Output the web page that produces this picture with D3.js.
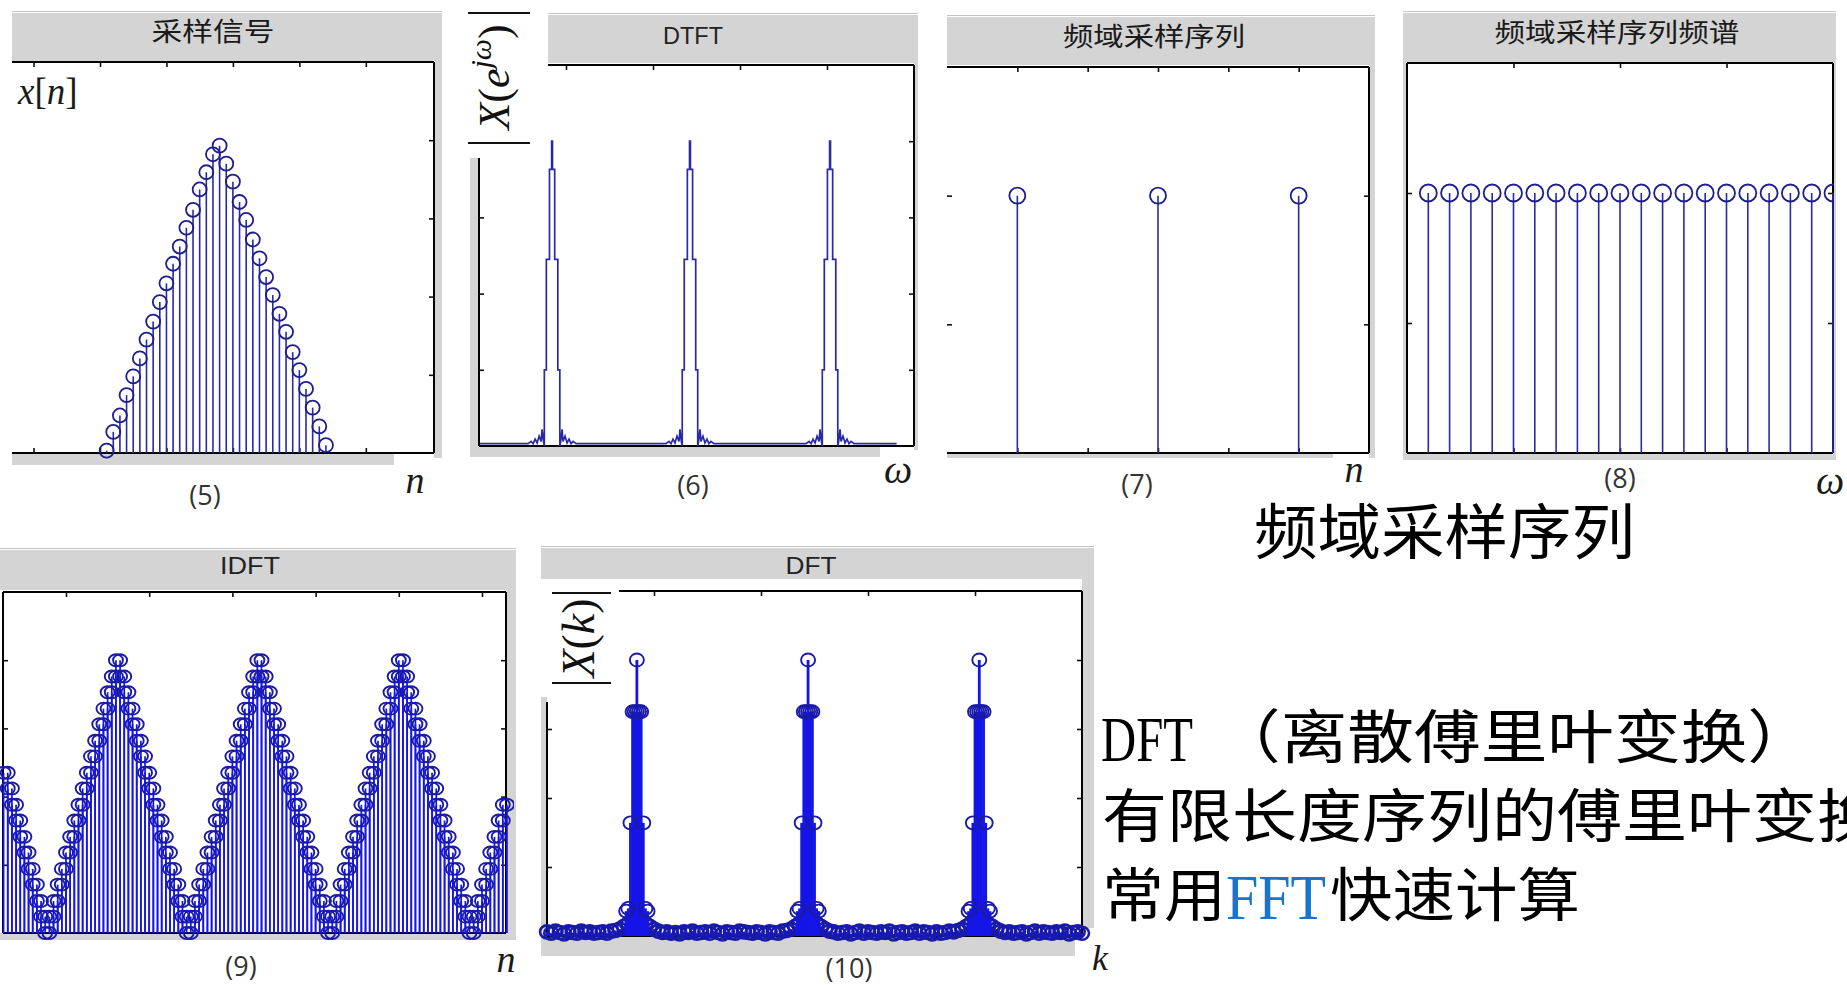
<!DOCTYPE html>
<html>
<head>
<meta charset="utf-8">
<script src="https://cdnjs.cloudflare.com/ajax/libs/d3/7.8.5/d3.min.js"></script>
<style>
  body { margin: 0; background: #fff; }
</style>
</head>
<body>
<script>
// ---------- data ----------
// (5) sampled signal x[n], n = 1..34
const triN = d3.range(1, 35);
const triVal = [0.03, 0.27, 0.48, 0.74, 0.98, 1.21, 1.45, 1.68, 1.93, 2.17, 2.42, 2.64, 2.88, 3.11, 3.37,
  3.59, 3.82, 3.93, 3.70, 3.47, 3.21, 2.98, 2.73, 2.49, 2.25, 2.02, 1.78, 1.55, 1.29, 1.06, 0.82, 0.58, 0.34, 0.10];
const triTicks = [-10, 0, 10, 20, 30, 40];

// (6) DTFT magnitude: one spike profile (offset in omega, value) and the spike centres
const dtftPeaks = [0.84, 2.425, 4.035];
const dtftOff = [-0.276, -0.241, -0.218, -0.195, -0.172, -0.149, -0.126, -0.115, -0.098, -0.089, -0.089, -0.066, -0.066,
  -0.030, -0.030, -0.005, -0.005, 0.005, 0.005, 0.030, 0.030, 0.066, 0.066, 0.089, 0.089, 0.098, 0.115, 0.126,
  0.149, 0.172, 0.195, 0.218, 0.241, 0.276];
const dtftMag = [0.03, 0.06, 0.03, 0.09, 0.04, 0.13, 0.06, 0.22, 0.05, 0.0, 1.0, 1.0, 2.45, 2.45, 3.63, 3.63, 4.0,
  4.0, 3.63, 3.63, 2.45, 2.45, 1.0, 1.0, 0.0, 0.05, 0.22, 0.06, 0.13, 0.04, 0.09, 0.03, 0.06, 0.03];
const dtftEnds = [[0.01, 0.03], [4.8, 0.03]];

// (7) frequency-domain samples
const fsN = [1, 3, 5];
const fsVal = [2, 2, 2];

// (8) spectrum of the frequency samples
const fsSpecW = [0.2, 0.4, 0.6, 0.8, 1.0, 1.2, 1.4, 1.6, 1.8, 2.0, 2.2, 2.4, 2.6, 2.8, 3.0, 3.2, 3.4, 3.6, 3.8, 4.0];
const fsSpecVal = [2, 2, 2, 2, 2, 2, 2, 2, 2, 2, 2, 2, 2, 2, 2, 2, 2, 2, 2, 2];

// (9) IDFT, n = 5..125
const idftN = d3.range(5, 126);
const idftVal = [
  2.35, 2.12, 1.88, 1.65, 1.41, 1.18, 0.94, 0.71, 0.47, 0.24,
  0,
  0.24, 0.47, 0.71, 0.94, 1.18, 1.41, 1.65, 1.88, 2.12, 2.35, 2.59, 2.82, 3.06, 3.29, 3.53, 3.76, 4.00,
  3.76, 3.53, 3.29, 3.06, 2.82, 2.59, 2.35, 2.12, 1.88, 1.65, 1.41, 1.18, 0.94, 0.71, 0.47, 0.24,
  0,
  0.24, 0.47, 0.71, 0.94, 1.18, 1.41, 1.65, 1.88, 2.12, 2.35, 2.59, 2.82, 3.06, 3.29, 3.53, 3.76, 4.00,
  3.76, 3.53, 3.29, 3.06, 2.82, 2.59, 2.35, 2.12, 1.88, 1.65, 1.41, 1.18, 0.94, 0.71, 0.47, 0.24,
  0,
  0.24, 0.47, 0.71, 0.94, 1.18, 1.41, 1.65, 1.88, 2.12, 2.35, 2.59, 2.82, 3.06, 3.29, 3.53, 3.76, 4.00,
  3.76, 3.53, 3.29, 3.06, 2.82, 2.59, 2.35, 2.12, 1.88, 1.65, 1.41, 1.18, 0.94, 0.71, 0.47, 0.24,
  0,
  0.24, 0.47, 0.71, 0.94, 1.18, 1.41, 1.65, 1.88];
const idftTicks = [20, 40, 60, 80, 100, 120];

// (10) DFT: spike centres, spike profile, and the low floor (k = 0, 2, ..., 250)
const dftPeaks = [42, 122, 202];
const dftOff = [-5, 5, -4, 4, -3, 3, -2, -1, 1, 2, 0, 0];
const dftMag = [0.36, 0.36, 0.40, 0.40, 1.64, 1.64, 3.25, 3.25, 3.25, 3.25, 3.25, 4.0];
const dftFloorK = d3.range(0, 251, 2);
const dftFloor = [
  0.06, 0.04, 0.07, 0.05, 0.03, 0.06, 0.05, 0.04, 0.07, 0.05, 0.06, 0.04, 0.05, 0.06, 0.04, 0.07, 0.08,
  0.10, 0.14, 0.18, 0.24, 0.28, 0.24, 0.18, 0.14, 0.10,
  0.07, 0.05, 0.06, 0.04, 0.05, 0.03, 0.06, 0.05, 0.07, 0.04, 0.05, 0.06, 0.04, 0.07, 0.05, 0.03,
  0.06, 0.05, 0.04, 0.07, 0.06, 0.05, 0.04, 0.06, 0.05, 0.03, 0.06, 0.05, 0.04, 0.07, 0.08,
  0.10, 0.14, 0.18, 0.24, 0.28, 0.24, 0.18, 0.14, 0.10,
  0.07, 0.06, 0.04, 0.05, 0.06, 0.03, 0.05, 0.07, 0.04, 0.06, 0.05, 0.04, 0.06, 0.05, 0.07, 0.03,
  0.05, 0.06, 0.04, 0.05, 0.07, 0.04, 0.06, 0.05, 0.03, 0.06, 0.04, 0.05, 0.07, 0.06, 0.08,
  0.10, 0.14, 0.18, 0.24, 0.28, 0.24, 0.18, 0.14, 0.10,
  0.07, 0.05, 0.06, 0.04, 0.05, 0.06, 0.03, 0.05, 0.07, 0.04, 0.06, 0.05, 0.04, 0.06, 0.05, 0.07,
  0.03, 0.05, 0.06, 0.04];
const dftTicks = [0, 50, 100, 150, 200];

const unitTicks = [1, 2, 3, 4];

// ---------- drawing ----------
const svg = d3.select('body').append('svg').attr('width', 1847).attr('height', 985);
const defs = svg.append('defs');

const GRAY = '#d4d4d4';
const NAVY = '#2a2aa4', NAVYC = '#1e1e8e';
const BLUE = '#1515e8', BLUEC = '#1a1aa8';
const CJK = 'Noto Sans CJK SC';

function rect(x0, y0, x1, y1, fill) {
  svg.append('rect').attr('x', x0).attr('y', y0).attr('width', x1 - x0).attr('height', y1 - y0).attr('fill', fill);
}
function seg(x1, y1, x2, y2, c = '#000', w = 2) {
  svg.append('line').attr('x1', x1).attr('y1', y1).attr('x2', x2).attr('y2', y2).attr('stroke', c).attr('stroke-width', w);
}
function clip(id, x0, y0, x1, y1) {
  defs.append('clipPath').attr('id', id).append('rect')
    .attr('x', x0).attr('y', y0).attr('width', x1 - x0).attr('height', y1 - y0);
}
function txt(x, y, s, o = {}) {
  const t = svg.append('text').attr('x', x).attr('y', y)
    .attr('font-family', o.ff || 'Liberation Sans')
    .attr('font-size', o.fs || 20)
    .attr('fill', o.fill || '#222')
    .attr('text-anchor', o.anchor || 'start');
  if (o.italic) t.attr('font-style', 'italic');
  if (o.weight) t.attr('font-weight', o.weight);
  if (o.len) t.attr('textLength', o.len).attr('lengthAdjust', 'spacingAndGlyphs');
  t.text(s);
  return t;
}
function titleBar(x0, y0, x1, y1) {
  rect(x0, y0, x1, y1, GRAY);
  seg(x0, y0 - 1.5, x1, y0 - 1.5, '#c4c4c4', 1);
}
function ticks(x, y, box, t) {
  const [l, tp, r, b] = box;
  const put = (axis, tx, ty) => svg.append('g').attr('transform', `translate(${tx},${ty})`)
    .call(axis.tickSize(-5).tickFormat(''))
    .call(g => {
      g.select('.domain').remove();
      g.selectAll('text').remove();
      g.selectAll('line').attr('stroke', '#111').attr('stroke-width', 1.6);
    });
  if (t.top) put(d3.axisTop(x).tickValues(t.top), 0, tp);
  if (t.bottom) put(d3.axisBottom(x).tickValues(t.bottom), 0, b);
  if (t.left) put(d3.axisLeft(y).tickValues(t.left), l, 0);
  if (t.right) put(d3.axisRight(y).tickValues(t.right), r, 0);
}
function cutLabels(x, yPos, vals, clipId) {
  svg.append('g').attr('transform', `translate(0,${yPos})`).attr('clip-path', `url(#${clipId})`)
    .call(d3.axisBottom(x).tickValues(vals).tickSize(0).tickPadding(0).tickFormat(d3.format('d')))
    .call(g => {
      g.select('.domain').remove();
      g.selectAll('text').attr('font-family', 'Liberation Sans').attr('font-size', 16).attr('fill', '#333').attr('dy', 0);
    });
}
function stems(x, y, xs, vs, st, clipId) {
  const g = svg.append('g');
  if (clipId) g.attr('clip-path', `url(#${clipId})`);
  g.selectAll('line').data(xs).join('line')
    .attr('x1', d => x(d)).attr('x2', d => x(d))
    .attr('y1', y(0)).attr('y2', (d, i) => y(vs[i]))
    .attr('stroke', st.line).attr('stroke-width', st.lw);
  g.selectAll('ellipse').data(xs).join('ellipse')
    .attr('cx', d => x(d)).attr('cy', (d, i) => y(vs[i]))
    .attr('rx', st.rx).attr('ry', st.ry)
    .attr('fill', 'none').attr('stroke', st.mk).attr('stroke-width', st.mw);
}
const navyStem = r => ({ line: NAVY, lw: 1.6, mk: NAVYC, mw: 1.8, rx: r, ry: r });
const capFont = { ff: 'Open Sans', fs: 27, anchor: 'middle', fill: '#333' };
const mathFont = (fs) => ({ ff: 'Liberation Serif', fs, italic: true, anchor: 'middle', fill: '#1a1a1a' });
const cjkTitle = (len) => ({ ff: CJK, fs: 26, anchor: 'middle', len, fill: '#1a1a1a' });

// ===== (5) 采样信号 =====
{
  const box = [12, 62, 434, 453];
  rect(434, 61, 442, 458, GRAY);
  rect(12, 453, 394, 465, GRAY);
  titleBar(12, 13, 442, 61);
  txt(213, 41, '采样信号', cjkTitle(123));
  const x = d3.scaleLinear().domain([-13.24, 50.26]).range([box[0], box[2]]);
  const y = d3.scaleLinear().domain([0, 5]).range([box[3], box[1]]);
  seg(12, 62, 434, 62); seg(434, 62, 434, 453); seg(12, 453, 434, 453);
  ticks(x, y, box, { top: triTicks, bottom: triTicks, right: unitTicks });
  clip('c5lab', 0, 459, 460, 465.5);
  cutLabels(x, 460, triTicks, 'c5lab');
  stems(x, y, triN, triVal, navyStem(7));
  const t = txt(18, 104, '', { ff: 'Liberation Serif', fs: 37, fill: '#1a1a1a' });
  t.append('tspan').attr('font-style', 'italic').text('x');
  t.append('tspan').text('[');
  t.append('tspan').attr('font-style', 'italic').text('n');
  t.append('tspan').text(']');
  txt(205, 505, '(5)', capFont);
  txt(415, 493, 'n', mathFont(38));
}

// ===== (6) DTFT =====
{
  const box = [479, 65, 914, 446];
  rect(470, 158, 478, 457, GRAY);
  rect(914, 63, 918, 450, GRAY);
  rect(470, 447, 880, 457, GRAY);
  titleBar(548, 15, 918, 63);
  txt(693, 44, 'DTFT', { fs: 24, anchor: 'middle', fill: '#222', len: 60 });
  const x = d3.scaleLinear().domain([0, 5]).range([box[0], box[2]]);
  const y = d3.scaleLinear().domain([0, 5]).range([box[3], box[1]]);
  seg(548, 65, 914, 65); seg(914, 65, 914, 446); seg(479, 446, 914, 446); seg(479, 158, 479, 446);
  ticks(x, y, box, { top: unitTicks, right: unitTicks, left: [1, 2, 3] });
  const pts = [dtftEnds[0]];
  dtftPeaks.forEach(c => dtftOff.forEach((o, i) => pts.push([c + o, dtftMag[i]])));
  pts.push(dtftEnds[1]);
  svg.append('path').attr('d', d3.line().x(d => x(d[0])).y(d => y(d[1]))(pts))
    .attr('fill', 'none').attr('stroke', NAVY).attr('stroke-width', 1.7);
  // |X(e^{jω})| label
  seg(468, 13, 530, 13, '#111', 2); seg(468, 143, 530, 143, '#111', 2);
  const t = svg.append('text').attr('transform', 'translate(509,77) rotate(-90)')
    .attr('text-anchor', 'middle').attr('font-family', 'Liberation Serif').attr('font-size', 44).attr('fill', '#111');
  t.append('tspan').attr('font-style', 'italic').text('X');
  t.append('tspan').text('(');
  t.append('tspan').attr('font-style', 'italic').text('e');
  t.append('tspan').attr('font-style', 'italic').attr('font-size', 30).attr('dy', -18).text('jω');
  t.append('tspan').attr('dy', 18).text(')');
  txt(693, 495, '(6)', capFont);
  txt(898, 483, 'ω', mathFont(40));
}

// ===== (7) 频域采样序列 =====
{
  const box = [947, 67, 1369, 453];
  rect(1369, 65, 1375, 458, GRAY);
  rect(947, 453, 1333, 458, GRAY);
  titleBar(947, 17, 1375, 65);
  txt(1154, 46, '频域采样序列', cjkTitle(182));
  const x = d3.scaleLinear().domain([0, 6]).range([box[0], box[2]]);
  const y = d3.scaleLinear().domain([0, 3]).range([box[3], box[1]]);
  seg(947, 67, 1369, 67); seg(1369, 67, 1369, 453); seg(947, 453, 1369, 453);
  ticks(x, y, box, { top: [1, 2, 3, 4, 5], bottom: [1, 2, 3, 4, 5], left: [1, 2], right: [1, 2] });
  stems(x, y, fsN, fsVal, navyStem(8));
  txt(1137, 494, '(7)', capFont);
  txt(1354, 482, 'n', mathFont(38));
}

// ===== (8) 频域采样序列频谱 =====
{
  const box = [1407, 63, 1833, 453];
  rect(1403, 62, 1407, 460, GRAY);
  rect(1833, 62, 1836, 460, GRAY);
  rect(1403, 453, 1836, 460, GRAY);
  titleBar(1403, 13, 1836, 62);
  txt(1617, 42, '频域采样序列频谱', cjkTitle(245));
  const x = d3.scaleLinear().domain([0, 4]).range([box[0], box[2]]);
  const y = d3.scaleLinear().domain([0, 3]).range([box[3], box[1]]);
  seg(1407, 63, 1833, 63); seg(1833, 63, 1833, 453); seg(1407, 453, 1833, 453); seg(1407, 63, 1407, 453);
  ticks(x, y, box, { top: [1, 2, 3], bottom: [1, 2, 3], left: [1, 2], right: [1, 2] });
  clip('c8', 1403, 60, 1834, 460);
  stems(x, y, fsSpecW, fsSpecVal, navyStem(8.5), 'c8');
  txt(1620, 488, '(8)', capFont);
  txt(1830, 494, 'ω', mathFont(40));
}

// ===== (9) IDFT =====
{
  const box = [3, 592, 506, 933];
  rect(506, 590, 516, 940, GRAY);
  rect(0, 933, 516, 940, GRAY);
  titleBar(0, 550, 516, 590);
  txt(250, 574, 'IDFT', { fs: 24, anchor: 'middle', fill: '#222', len: 60 });
  const x = d3.scaleLinear().domain([4.856, 125.77]).range([box[0], box[2]]);
  const y = d3.scaleLinear().domain([0, 5]).range([box[3], box[1]]);
  seg(3, 592, 506, 592); seg(506, 592, 506, 933); seg(3, 933, 506, 933); seg(3, 592, 3, 933);
  ticks(x, y, box, { top: idftTicks, right: unitTicks, left: unitTicks });
  clip('c9', 0, 585, 514, 945);
  const st = { line: BLUE, lw: 1.7, mk: BLUEC, mw: 1.9, rx: 7, ry: 6 };
  stems(x, y, idftN, idftVal, st, 'c9');
  // the figure carries a second, one-sample-shifted trace of the same samples
  stems(x, y, idftN.map(n => n + 1), idftVal, st, 'c9');
  txt(241, 976, '(9)', capFont);
  txt(506, 972, 'n', mathFont(38));
}

// ===== (10) DFT =====
{
  const box = [547, 591, 1082, 936];
  rect(541, 697, 547, 936, GRAY);
  rect(1082, 579, 1094, 928, GRAY);
  rect(541, 936, 1075, 956, GRAY);
  titleBar(541, 548, 1094, 579);
  txt(811, 574, 'DFT', { fs: 24, anchor: 'middle', fill: '#222', len: 51 });
  const x = d3.scaleLinear().domain([0, 250]).range([box[0], box[2]]);
  const y = d3.scaleLinear().domain([0, 5]).range([box[3], box[1]]);
  seg(619, 591, 1082, 591); seg(1082, 591, 1082, 936); seg(547, 936, 1082, 936); seg(547, 702, 547, 936);
  ticks(x, y, box, { top: [50, 100, 150, 200], right: unitTicks, left: [1, 2, 3] });
  clip('c10lab', 530, 946, 1072, 955);
  cutLabels(x, 947, dftTicks, 'c10lab');
  const st = { line: BLUE, lw: 2.8, mk: BLUEC, mw: 2.6, rx: 7, ry: 6.5 };
  stems(x, y, dftFloorK, dftFloor, st);
  const pk = [];
  dftPeaks.forEach(c => dftOff.forEach((o, i) => pk.push([c + o, dftMag[i]])));
  stems(x, y, pk.map(d => d[0]), pk.map(d => d[1]), { ...st, mw: 1.9 });
  // |X(k)| label box
  rect(541, 579, 619, 697, '#fff');
  seg(552, 593, 611, 593, '#111', 2); seg(552, 683, 611, 683, '#111', 2);
  const t = svg.append('text').attr('transform', 'translate(594,638) rotate(-90)')
    .attr('text-anchor', 'middle').attr('font-family', 'Liberation Serif').attr('font-size', 46).attr('fill', '#111');
  t.append('tspan').attr('font-style', 'italic').text('X');
  t.append('tspan').text('(');
  t.append('tspan').attr('font-style', 'italic').text('k');
  t.append('tspan').text(')');
  txt(849, 978, '(10)', capFont);
  txt(1100, 970, 'k', mathFont(36));
}

// ===== annotation text =====
txt(1254, 554, '频域采样序列', { ff: CJK, fs: 60, len: 381, fill: '#000' });
txt(1101, 761, 'DFT', { ff: 'Liberation Serif', fs: 64, len: 92, fill: '#000' });
txt(1214, 758, '（离散傅里叶变换）', { ff: CJK, fs: 58, len: 600, fill: '#000' });
txt(1102, 837, '有限长度序列的傅里叶变换', { ff: CJK, fs: 58, len: 780, fill: '#000' });
txt(1102, 916, '常用', { ff: CJK, fs: 58, len: 124, fill: '#000' });
txt(1226, 919, 'FFT', { ff: 'Liberation Serif', fs: 64, len: 100, fill: '#1874cd' });
txt(1330, 916, '快速计算', { ff: CJK, fs: 58, len: 250, fill: '#000' });
</script>
</body>
</html>
